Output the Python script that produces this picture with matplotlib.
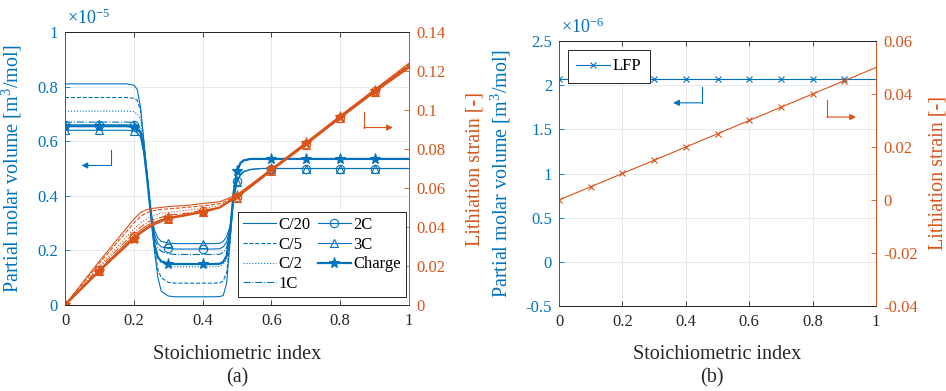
import numpy as np
import matplotlib
matplotlib.use('Agg')
import matplotlib.pyplot as plt
from matplotlib.ticker import FuncFormatter

# --- colours / fonts ---
BLUE = '#0072BD'
ORANGE = '#D95319'
DARK = '#262626'
GRID = '#dfe6ed'

plt.rcParams['font.family'] = 'Liberation Serif'
plt.rcParams['mathtext.fontset'] = 'custom'
plt.rcParams['mathtext.rm'] = 'Liberation Serif'
plt.rcParams['mathtext.it'] = 'Liberation Serif:italic'

# --- data, panel (a): partial molar volume (x1e-5 m^3/mol) ---
x_vol = [0, 0.1, 0.18, 0.2, 0.21, 0.22, 0.23, 0.24, 0.25, 0.26, 0.27, 0.28, 0.3, 0.32,
         0.4, 0.43, 0.45, 0.46, 0.47, 0.48, 0.49, 0.5, 0.51, 0.52, 0.54, 0.57,
         0.6, 0.7, 0.8, 0.9, 1.0]
vol_c20 = [0.81, 0.81, 0.81, 0.805, 0.79, 0.72, 0.59, 0.46, 0.33, 0.20, 0.10, 0.05, 0.033, 0.03,
           0.03, 0.03, 0.031, 0.035, 0.08, 0.235, 0.395, 0.49, 0.52, 0.53, 0.535, 0.535,
           0.535, 0.535, 0.535, 0.535, 0.535]
vol_c5 = [0.76, 0.76, 0.76, 0.757, 0.75, 0.71, 0.59, 0.46, 0.33, 0.21, 0.13, 0.10, 0.083, 0.08,
          0.08, 0.08, 0.081, 0.088, 0.12, 0.24, 0.40, 0.49, 0.52, 0.53, 0.535, 0.535,
          0.535, 0.535, 0.535, 0.535, 0.535]
vol_c2 = [0.71, 0.71, 0.71, 0.708, 0.70, 0.68, 0.58, 0.46, 0.33, 0.23, 0.175, 0.155, 0.143, 0.14,
          0.14, 0.14, 0.141, 0.148, 0.17, 0.25, 0.40, 0.49, 0.52, 0.53, 0.535, 0.535,
          0.535, 0.535, 0.535, 0.535, 0.535]
vol_1c = [0.67, 0.67, 0.67, 0.668, 0.66, 0.645, 0.57, 0.455, 0.33, 0.245, 0.21, 0.196, 0.188, 0.185,
          0.185, 0.185, 0.186, 0.193, 0.21, 0.27, 0.40, 0.49, 0.52, 0.53, 0.535, 0.535,
          0.535, 0.535, 0.535, 0.535, 0.535]
vol_2c = [0.66, 0.66, 0.66, 0.658, 0.65, 0.635, 0.565, 0.45, 0.335, 0.26, 0.225, 0.213, 0.207, 0.205,
          0.205, 0.205, 0.206, 0.213, 0.23, 0.28, 0.39, 0.455, 0.48, 0.49, 0.497, 0.50,
          0.50, 0.50, 0.50, 0.50, 0.50]
vol_3c = [0.64, 0.64, 0.64, 0.638, 0.63, 0.615, 0.555, 0.45, 0.34, 0.275, 0.245, 0.233, 0.227, 0.225,
          0.225, 0.225, 0.226, 0.233, 0.25, 0.29, 0.385, 0.45, 0.475, 0.488, 0.496, 0.50,
          0.50, 0.50, 0.50, 0.50, 0.50]
vol_chg = [0.655, 0.655, 0.655, 0.652, 0.645, 0.63, 0.56, 0.45, 0.33, 0.22, 0.175, 0.16, 0.152, 0.15,
           0.15, 0.15, 0.151, 0.158, 0.18, 0.27, 0.41, 0.49, 0.52, 0.53, 0.535, 0.535,
           0.535, 0.535, 0.535, 0.535, 0.535]

# --- panel (a): lithiation strain ---
x_str = [0, 0.1, 0.2, 0.22, 0.24, 0.26, 0.28, 0.3, 0.35, 0.4, 0.45, 0.5, 0.55, 0.6, 0.7, 0.8, 0.9, 1.0]
str_c20 = [0, 0.0225, 0.044, 0.0475, 0.049, 0.0497, 0.050, 0.0505, 0.051, 0.052, 0.053, 0.0565, 0.063, 0.0695, 0.083, 0.097, 0.1105, 0.124]
str_c5 = [0, 0.0215, 0.042, 0.0455, 0.0475, 0.0485, 0.049, 0.0493, 0.050, 0.0508, 0.052, 0.056, 0.0625, 0.069, 0.083, 0.097, 0.110, 0.1235]
str_c2 = [0, 0.020, 0.039, 0.042, 0.0445, 0.046, 0.047, 0.0475, 0.0485, 0.0495, 0.051, 0.0555, 0.062, 0.069, 0.0825, 0.0965, 0.110, 0.123]
str_1c = [0, 0.019, 0.037, 0.040, 0.0425, 0.044, 0.045, 0.046, 0.047, 0.0485, 0.050, 0.0555, 0.062, 0.069, 0.0825, 0.096, 0.1095, 0.1225]
str_2c = [0, 0.018, 0.0355, 0.0385, 0.041, 0.0425, 0.0438, 0.0448, 0.0465, 0.048, 0.050, 0.0555, 0.062, 0.069, 0.0825, 0.096, 0.1095, 0.122]
str_3c = [0, 0.0175, 0.0345, 0.0375, 0.040, 0.042, 0.0433, 0.0443, 0.046, 0.0478, 0.050, 0.055, 0.0618, 0.0688, 0.082, 0.0958, 0.109, 0.1215]
str_chg = [0, 0.0175, 0.034, 0.037, 0.0395, 0.0415, 0.043, 0.0445, 0.046, 0.0477, 0.050, 0.056, 0.0627, 0.0695, 0.083, 0.0965, 0.110, 0.1225]

marker_x = [0, 0.1, 0.2, 0.3, 0.4, 0.5, 0.6, 0.7, 0.8, 0.9]

# --- panel (b): LFP ---
x_lfp = [0, 0.1, 0.2, 0.3, 0.4, 0.5, 0.6, 0.7, 0.8, 0.9, 1.0]
vol_lfp = [2.07, 2.07, 2.07, 2.07, 2.07, 2.07, 2.07, 2.07, 2.07, 2.07, 2.07]  # x1e-6
str_lfp = [0, 0.005, 0.01, 0.015, 0.02, 0.025, 0.03, 0.035, 0.04, 0.045, 0.05]

labels_a = ['C/20', 'C/5', 'C/2', '1C', '2C', '3C', 'Charge']
vol_a = [vol_c20, vol_c5, vol_c2, vol_1c, vol_2c, vol_3c, vol_chg]
str_a = [str_c20, str_c5, str_c2, str_1c, str_2c, str_3c, str_chg]
lstyles = ['-', '--', ':', '-.', '-', '-', '-']
markers = [None, None, None, None, 'o', '^', '*']
lwidths = [0.8, 0.8, 0.8, 0.8, 0.8, 0.8, 1.6]
msizes = [0, 0, 0, 0, 6, 6, 8]

FS_TICK = 12
FS_LABEL = 14.5

fmt = FuncFormatter(lambda v, p: '%g' % round(v, 4))


def style_axes(axl, axr):
    axl.set_xlim(0, 1)
    axl.set_xticks([0, 0.2, 0.4, 0.6, 0.8, 1])
    axl.xaxis.set_major_formatter(fmt)
    axl.yaxis.set_major_formatter(fmt)
    axr.yaxis.set_major_formatter(fmt)
    axl.grid(True, color=GRID, lw=0.6)
    axl.set_axisbelow(True)
    axl.tick_params(axis='x', direction='in', top=True, length=3.5, width=0.6,
                    colors=DARK, labelsize=FS_TICK, pad=6)
    axl.tick_params(axis='y', direction='in', length=3.5, width=0.6,
                    colors=BLUE, labelsize=FS_TICK, pad=5)
    axr.tick_params(axis='y', direction='in', length=3.5, width=0.6,
                    colors=ORANGE, labelsize=FS_TICK, pad=5)
    for a in (axl, axr):
        a.spines['top'].set_color(DARK)
        a.spines['bottom'].set_color(DARK)
        for s in a.spines.values():
            s.set_linewidth(0.7)
    axl.spines['left'].set_color(BLUE)
    axr.spines['left'].set_color(BLUE)
    axl.spines['right'].set_color(ORANGE)
    axr.spines['right'].set_color(ORANGE)
    axl.set_xlabel('Stoichiometric index', fontsize=FS_LABEL, color=DARK)
    axl.xaxis.set_label_coords(0.5, -0.147)
    axl.set_ylabel('Partial molar volume [m$^3$/mol]', fontsize=FS_LABEL, color=BLUE)
    axr.set_ylabel('Lithiation strain [-]', fontsize=FS_LABEL, color=ORANGE, rotation=90)


def l_arrow(ax, x0, y0, y1, x1, color):
    ax.plot([x0, x0], [y0, y1], color=color, lw=0.8)
    ax.annotate('', xy=(x1, y1), xytext=(x0, y1),
                arrowprops=dict(arrowstyle='-|>', color=color, lw=0.8,
                                mutation_scale=9, shrinkA=0, shrinkB=0))


fig = plt.figure(figsize=(9.46, 3.91), dpi=100)

# ---------------- panel (a) ----------------
ax1 = fig.add_axes([65 / 946, 86 / 391, 344 / 946, 273 / 391])
ax1r = ax1.twinx()

idx_vol = np.where(np.isin(np.round(x_vol, 3), marker_x))[0].tolist()
idx_str = np.where(np.isin(np.round(x_str, 3), marker_x))[0].tolist()

handles = []
for lab, v, ls, mk, lw, ms in zip(labels_a, vol_a, lstyles, markers, lwidths, msizes):
    mfc = BLUE if mk == '*' else 'none'
    h, = ax1.plot(x_vol, v, color=BLUE, ls=ls, lw=lw, marker=mk, ms=ms,
                  mfc=mfc, mew=0.8, markevery=idx_vol, label=lab)
    handles.append(h)
for s, ls, mk, lw, ms in zip(str_a, lstyles, markers, lwidths, msizes):
    mfc = ORANGE if mk == '*' else 'none'
    ax1r.plot(x_str, s, color=ORANGE, ls=ls, lw=lw, marker=mk, ms=ms,
              mfc=mfc, mew=0.8, markevery=idx_str)

ax1.set_ylim(0, 1)
ax1.set_yticks([0, 0.2, 0.4, 0.6, 0.8, 1])
ax1r.set_ylim(0, 0.14)
ax1r.set_yticks([0, 0.02, 0.04, 0.06, 0.08, 0.1, 0.12, 0.14])
style_axes(ax1, ax1r)
ax1.yaxis.set_label_coords(-0.118, 0.5)
ax1r.yaxis.set_label_coords(1.163, 0.5)
ax1.text(0.005, 1.015, '×10$^{-5}$', transform=ax1.transAxes, color=BLUE,
         fontsize=13, ha='left', va='bottom')

l_arrow(ax1, 0.133, 0.568, 0.511, 0.048, BLUE)
l_arrow(ax1r, 0.869, 0.0992, 0.091, 0.953, ORANGE)

leg = ax1r.legend(handles, labels_a, ncol=2, loc='lower left', bbox_to_anchor=(0.503, 0.029),
                  borderaxespad=0, fontsize=12, fancybox=False, framealpha=1,
                  edgecolor=DARK, handlelength=2.0, labelspacing=0.22,
                  columnspacing=0.4, handletextpad=0.15, borderpad=0.3)
leg.get_frame().set_linewidth(0.7)

# ---------------- panel (b) ----------------
ax2 = fig.add_axes([559 / 946, 85 / 391, 317 / 946, 265 / 391])
ax2r = ax2.twinx()
h_lfp, = ax2.plot(x_lfp, vol_lfp, color=BLUE, lw=0.8, marker='x', ms=5, mew=0.8,
                  markevery=slice(0, 10), label='LFP')
ax2r.plot(x_lfp, str_lfp, color=ORANGE, lw=0.8, marker='x', ms=5, mew=0.8,
          markevery=slice(0, 10))
ax2.set_ylim(-0.5, 2.5)
ax2.set_yticks([-0.5, 0, 0.5, 1, 1.5, 2, 2.5])
ax2r.set_ylim(-0.04, 0.06)
ax2r.set_yticks([-0.04, -0.02, 0, 0.02, 0.04, 0.06])
style_axes(ax2, ax2r)
ax2.yaxis.set_label_coords(-0.145, 0.5)
ax2r.yaxis.set_label_coords(1.165, 0.5)
ax2.text(0.005, 1.015, '×10$^{-6}$', transform=ax2.transAxes, color=BLUE,
         fontsize=13, ha='left', va='bottom')

l_arrow(ax2, 0.451, 1.98, 1.80, 0.36, BLUE)
l_arrow(ax2r, 0.845, 0.0377, 0.0313, 0.937, ORANGE)

leg2 = ax2r.legend([h_lfp], ['LFP'], loc='upper left', bbox_to_anchor=(0.028, 0.966),
                   borderaxespad=0, fontsize=12, fancybox=False, framealpha=1,
                   edgecolor=DARK, handlelength=2.0, handletextpad=0.2, borderpad=0.5)
leg2.get_frame().set_linewidth(0.7)

fig.text(237 / 946, 1 - 378 / 391, '(a)', ha='center', va='center', fontsize=FS_LABEL, color=DARK)
fig.text(712 / 946, 1 - 378 / 391, '(b)', ha='center', va='center', fontsize=FS_LABEL, color=DARK)

fig.savefig('out.png', dpi=100)
